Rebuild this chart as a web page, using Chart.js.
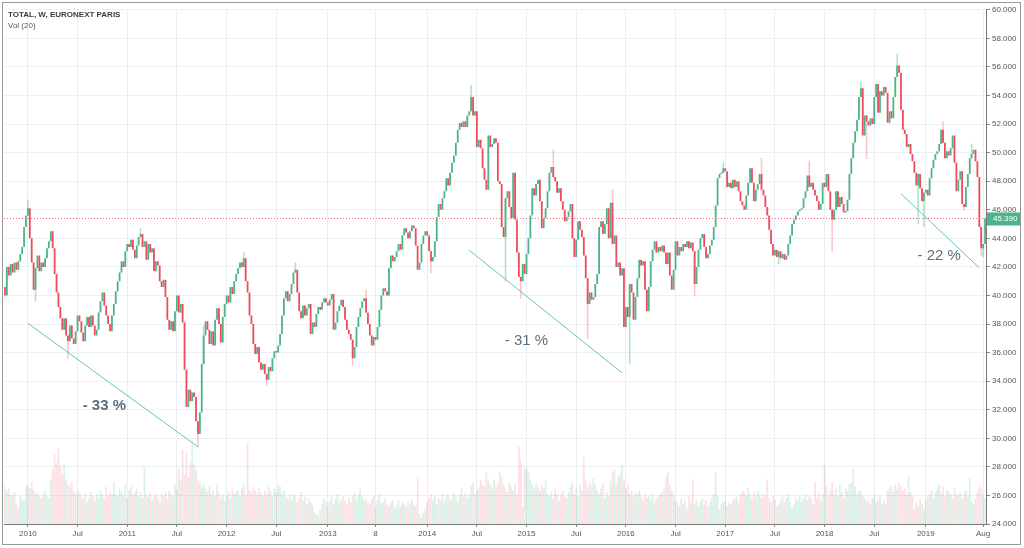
<!DOCTYPE html>
<html>
<head>
<meta charset="utf-8">
<script src="https://cdn.jsdelivr.net/npm/chart.js@4.4.1/dist/chart.umd.min.js"></script>
<style>
  html, body { margin: 0; padding: 0; background: #fff; }
  #frame { position: absolute; left: 2px; top: 2px; width: 1017px; height: 541px; border: 1px solid #9a9a9a; }
  canvas { display: block; }
</style>
</head>
<body>
<div id="frame"><canvas id="chart"></canvas></div>
<script>
// weekly candles, first week starts Monday 2009-10-12
const startWeek = '2009-10-12';
const firstOpen = 40.6;

const closes = [
  40.0, 42.0, 41.4, 42.2, 41.6, 42.3, 41.8, 42.4, 42.9, 43.4,
  44.8, 45.6, 46.1, 44.0, 42.3, 40.4, 41.9, 42.8, 41.7, 42.3,
  42.0, 42.6, 43.3, 43.8, 44.5, 43.3, 41.5, 40.2, 39.2, 38.4,
  37.6, 38.4, 37.2, 36.8, 37.9, 37.0, 36.6, 37.5, 38.6, 38.2,
  37.4, 36.8, 37.9, 38.5, 37.8, 38.6, 37.9, 37.2, 37.6, 38.8,
  39.6, 40.2, 39.3, 38.6, 38.0, 37.5, 38.6, 39.4, 40.3, 41.0,
  41.6, 42.4, 42.0, 43.1, 43.6, 43.4, 43.9, 43.2, 42.6, 43.5,
  44.1, 44.3, 43.4, 43.8, 42.5, 43.6, 43.0, 43.3, 41.7, 42.4,
  42.1, 41.0, 40.6, 41.1, 39.9, 38.3, 37.6, 38.2, 37.5, 38.9,
  40.0, 38.8, 39.4, 38.1, 34.8, 32.2, 33.4, 32.6, 33.2, 32.9,
  31.2, 30.3, 31.8, 35.2, 37.2, 38.2, 37.6, 36.6, 37.5, 36.5,
  38.3, 39.1, 38.0, 36.7, 38.5, 39.4, 40.0, 39.5, 40.6, 40.1,
  41.0, 41.5, 41.9, 42.3, 42.0, 42.6, 41.0, 40.2, 38.6, 38.0,
  36.6, 35.9, 36.4, 35.3, 34.8, 35.2, 34.5, 34.1, 35.0, 34.7,
  35.6, 36.1, 36.0, 36.5, 37.3, 38.6, 39.8, 40.3, 39.6, 40.1,
  40.8, 41.6, 41.8, 40.2, 38.9, 38.4, 39.3, 38.6, 39.1, 39.4,
  37.3, 38.1, 37.8, 38.7, 39.2, 39.0, 39.5, 39.8, 39.5, 39.3,
  39.7, 40.1, 37.6, 38.1, 38.9, 39.3, 39.7, 39.2, 38.3, 37.6,
  37.3, 36.9, 35.6, 36.4, 37.8, 38.5, 39.1, 39.6, 39.8, 38.8,
  38.0, 37.2, 36.5, 37.1, 36.9, 37.8, 39.0, 40.0, 40.5, 40.3,
  40.0, 41.9, 42.8, 42.4, 42.7, 43.1, 43.6, 43.2, 44.2, 44.7,
  44.4, 44.0, 44.5, 44.9, 44.7, 43.5, 41.8, 42.3, 43.6, 44.2,
  44.5, 44.2, 43.1, 42.4, 42.7, 43.8, 45.5, 46.4, 46.0, 46.8,
  47.3, 48.2, 47.7, 48.6, 49.3, 49.8, 50.7, 51.6, 52.1, 51.8,
  52.2, 51.8, 52.6, 52.9, 53.9, 52.6, 52.9, 50.4, 50.9, 50.3,
  48.9, 48.1, 47.4, 51.2, 50.4, 50.6, 51.0, 50.7, 48.0, 47.8,
  44.8, 44.1, 46.8, 47.3, 46.2, 45.4, 48.6, 45.3, 43.0, 41.3,
  41.0, 42.2, 41.5, 42.9, 44.0, 45.6, 47.5, 47.0, 47.8, 48.1,
  46.6, 44.7, 45.4, 46.1, 47.3, 48.6, 49.0, 48.3, 48.0, 47.2,
  47.5, 46.6, 46.0, 45.2, 45.5, 45.9, 46.4, 44.0, 42.7, 43.9,
  45.2, 44.6, 44.1, 42.8, 41.2, 39.4, 40.2, 39.7, 39.9, 40.8,
  41.5, 44.8, 45.2, 44.3, 45.0, 46.1, 44.0, 46.5, 43.6, 44.2,
  42.0, 42.3, 41.4, 41.9, 37.8, 39.2, 38.5, 40.8, 40.2, 38.3,
  39.9, 41.2, 42.5, 42.1, 42.4, 40.4, 38.9, 40.6, 42.4, 43.2,
  43.8, 43.0, 43.4, 43.1, 43.5, 43.0, 42.2, 43.0, 41.4, 40.4,
  41.8, 43.8, 42.8, 43.4, 43.1, 43.6, 43.4, 43.8, 43.3, 43.7,
  43.1, 40.8, 42.0, 43.2, 44.0, 44.3, 43.4, 42.6, 42.9, 43.5,
  43.9, 44.8, 46.3, 48.2, 48.5, 48.6, 48.9, 48.7, 47.6, 47.9,
  47.5, 48.1, 47.6, 48.0, 47.3, 46.6, 46.3, 46.0, 47.0, 47.9,
  48.9, 47.9, 46.6, 47.4, 47.8, 48.5, 47.4, 47.0, 46.2, 45.6,
  44.6, 43.6, 42.8, 43.2, 42.7, 43.1, 42.6, 42.9, 42.5, 42.8,
  43.6, 44.2, 45.0, 45.3, 45.6, 45.9, 46.0, 46.1, 46.8, 47.3,
  48.4, 47.6, 47.9, 47.4, 47.0, 46.6, 46.0, 46.4, 47.9, 47.6,
  48.5, 47.3, 46.0, 45.3, 46.0, 47.3, 46.2, 46.9, 46.4, 45.8,
  45.9, 46.7, 48.5, 49.6, 50.7, 51.5, 52.3, 53.9, 54.5, 51.2,
  52.6, 52.2, 51.9, 52.4, 52.0, 53.9, 54.8, 52.8, 54.3, 54.0,
  54.6, 54.2, 52.1, 52.9, 52.4, 53.9, 55.3, 56.1, 55.6, 53.0,
  51.6, 51.3, 50.4, 50.6, 49.9, 49.4, 48.6, 47.7, 48.5, 47.5,
  46.6, 47.2, 47.4, 47.0, 48.2, 48.9, 49.5, 49.9, 50.1, 50.6,
  51.6, 50.7, 49.6, 50.1, 49.8, 50.3, 51.2, 49.3, 47.3, 48.1,
  48.7, 46.4, 46.2, 47.6, 48.5, 49.6, 49.9, 50.2, 49.4, 48.3,
  44.8, 43.3, 43.6, 45.39
];

// weekly volume (M shares)
const volumes = [
  38, 34, 36, 30, 28, 32, 20, 15, 28, 25,
  24, 38, 40, 36, 42, 35, 30, 32, 28, 26,
  30, 33, 28, 26, 45, 55, 70, 62, 77, 58,
  50, 60, 45, 40, 38, 42, 33, 30, 34, 32,
  28, 25, 30, 22, 26, 32, 28, 24, 30, 26,
  34, 30, 26, 38, 28, 32, 30, 43, 30, 28,
  36, 32, 28, 40, 26, 34, 38, 30, 32, 35,
  28, 32, 26, 57, 30, 27, 32, 24, 28, 30,
  26, 22, 30, 28, 32, 25, 34, 30, 28, 40,
  35, 55, 45, 75, 50, 72, 48, 62, 85, 60,
  55, 45, 42, 38, 40, 36, 32, 38, 30, 34,
  28, 40, 32, 26, 30, 24, 28, 32, 26, 36,
  30, 32, 34, 28, 36, 40, 30, 82, 35, 32,
  38, 34, 30, 36, 32, 28, 34, 30, 38, 32,
  28, 36, 32, 40, 38, 30, 34, 28, 26, 30,
  24, 30, 28, 22, 26, 32, 24, 28, 20, 26,
  22, 18, 12, 10, 8, 15, 20, 26, 22, 18,
  24, 28, 20, 26, 30, 22, 25, 28, 24, 20,
  26, 22, 28, 32, 24, 30, 36, 28, 24, 26,
  22, 20, 25, 28, 18, 24, 30, 20, 22, 26,
  20, 18, 22, 24, 16, 20, 24, 18, 22, 20,
  18, 22, 20, 24, 20, 18, 48, 10, 6, 12,
  16, 22, 26, 30, 24, 28, 20, 26, 24, 30,
  22, 28, 30, 24, 26, 32, 28, 22, 30, 36,
  28, 32, 26, 30, 38, 42, 30, 34, 36, 45,
  40, 38, 52, 44, 40, 36, 45, 38, 42, 53,
  48, 40, 36, 32, 42, 38, 34, 40, 30, 78,
  65, 18, 55, 57, 52, 45, 40, 36, 42, 38,
  34, 40, 36, 44, 30, 28, 32, 26, 36, 30,
  24, 30, 34, 28, 26, 32, 38, 42, 30, 36,
  28, 40, 34, 68, 44, 36, 42, 38, 46, 40,
  34, 30, 36, 42, 26, 32, 28, 44, 52, 55,
  40, 48, 50, 60, 44, 36, 40, 30, 34, 28,
  32, 30, 34, 28, 24, 30, 26, 28, 24, 30,
  22, 26, 28, 30, 32, 36, 48, 52, 40, 34,
  30, 24, 22, 18, 26, 20, 24, 16, 28, 22,
  45, 20, 24, 18, 22, 26, 20, 24, 18, 22,
  26, 30, 52, 28, 14, 20, 22, 24, 18, 22,
  20, 24, 26, 28, 22, 30, 34, 32, 28, 36,
  30, 26, 32, 28, 34, 30, 26, 30, 28, 45,
  26, 22, 28, 24, 18, 20, 24, 28, 22, 26,
  30, 22, 16, 20, 26, 24, 28, 22, 26, 30,
  24, 28, 26, 20, 43, 26, 32, 24, 30, 60,
  38, 28, 34, 42, 30, 36, 28, 40, 32, 26,
  36, 34, 40, 42, 55, 38, 30, 34, 32, 28,
  26, 22, 24, 20, 26, 30, 22, 24, 28, 20,
  24, 20, 34, 36, 38, 32, 40, 36, 42, 38,
  34, 36, 30, 48, 32, 28, 15, 22, 18, 25,
  20, 16, 24, 28, 30, 34, 26, 32, 36, 40,
  30, 38, 28, 34, 32, 30, 26, 36, 30, 28,
  32, 26, 30, 34, 28, 47, 24, 20, 26, 32,
  38, 36, 30, 26
];

// notable shadows: [week, low, high] (null = no shadow on that side)
const wickMarks = [
  [12, null, 46.7], [16, 39.6, null], [33, 35.6, null], [71, null, 44.7],
  [101, 29.4, null], [102, 30.6, null], [104, null, 37.9], [125, null, 43.0],
  [137, 33.7, null], [152, null, 42.3], [182, 35.1, null], [189, null, 40.4],
  [223, 41.6, null], [244, null, 54.7], [262, 41.0, null], [270, 39.8, null],
  [287, null, 50.2], [305, 37.0, null], [318, null, 47.4], [327, 35.2, null],
  [361, 40.0, null], [376, null, 49.3], [396, null, 49.6], [405, 42.2, null],
  [421, null, 49.4], [433, 43.1, null], [448, null, 55.0], [451, 49.6, null],
  [467, null, 56.9], [478, 45.0, null], [481, 44.8, null], [491, null, 52.2],
  [502, 46.0, null], [506, null, 50.6], [511, 42.8, null], [512, 42.7, null]
];

const tickMonths = ['2010-01', '2010-07', '2011-01', '2011-07', '2012-01', '2012-07', '2013-01', '2013-07',
  '2014-01', '2014-07', '2015-01', '2015-07', '2016-01', '2016-07', '2017-01', '2017-07',
  '2018-01', '2018-07', '2019-01', '2019-08'];
const tickLabels = ['2010', 'Jul', '2011', 'Jul', '2012', 'Jul', '2013', '8',
  '2014', 'Jul', '2015', 'Jul', '2016', 'Jul', '2017', 'Jul',
  '2018', 'Jul', '2019', 'Aug'];

// trend lines: [fromWeek, fromPrice, toWeek, toPrice]
const trendLines = [[12, 38.05, 101, 29.4], [243, 43.17, 323, 34.58], [469, 47.12, 510, 41.93]];
// drop labels: [text, week, price, bold]
const dropLabels = [['- 33 %', 52, 32.3, true], ['- 31 %', 273, 36.8, false], ['- 22 %', 489, 42.8, false]];
const lastPrice = 45.39;

const UP = '#4cb488', DOWN = '#ee4c5d';

// week labels
const weekDates = closes.map((_, i) => {
  const d = new Date(startWeek + 'T00:00:00Z');
  d.setUTCDate(d.getUTCDate() + 7 * i);
  return d.toISOString().slice(0, 10);
});
const tickText = {};
tickMonths.forEach((m, k) => {
  const i = weekDates.findIndex(d => d.slice(0, 7) === m);
  if (i >= 0) tickText[i] = tickLabels[k];
});

const opens = closes.map((c, i) => i === 0 ? firstOpen : closes[i - 1]);
const isUp = closes.map((c, i) => c >= opens[i]);
const bodies = closes.map((c, i) => [Math.min(c, opens[i]), Math.max(c, opens[i])]);
const wicks = closes.map(() => null);
wickMarks.forEach(([i, lo, hi]) => {
  wicks[i] = [lo ?? bodies[i][0], hi ?? bodies[i][1]];
});

const overlay = {
  id: 'overlay',
  afterDatasetsDraw(chart) {
    const { ctx, chartArea: a, scales: { x, y } } = chart;
    ctx.save();
    ctx.beginPath();
    ctx.rect(a.left, a.top, a.right - a.left, a.bottom - a.top);
    ctx.clip();

    // last price dotted line
    const py = Math.round(y.getPixelForValue(lastPrice)) + 0.5;
    ctx.strokeStyle = '#ee6b73';
    ctx.lineWidth = 1;
    ctx.setLineDash([1, 2]);
    ctx.beginPath();
    ctx.moveTo(a.left, py);
    ctx.lineTo(a.right, py);
    ctx.stroke();
    ctx.setLineDash([]);

    // trend lines
    ctx.strokeStyle = '#66c5ae';
    trendLines.forEach(([i0, v0, i1, v1]) => {
      ctx.beginPath();
      ctx.moveTo(x.getPixelForValue(i0), y.getPixelForValue(v0));
      ctx.lineTo(x.getPixelForValue(i1), y.getPixelForValue(v1));
      ctx.stroke();
    });

    // drop labels
    ctx.fillStyle = '#5d6e7e';
    ctx.textAlign = 'center';
    ctx.textBaseline = 'middle';
    dropLabels.forEach(([t, i, v, bold]) => {
      ctx.font = (bold ? 'bold ' : '') + '15px "Liberation Sans", Arial, sans-serif';
      ctx.fillText(t, x.getPixelForValue(i), y.getPixelForValue(v));
    });
    ctx.restore();

    // title
    ctx.save();
    ctx.textAlign = 'left';
    ctx.textBaseline = 'middle';
    ctx.fillStyle = '#3c3c3c';
    ctx.font = 'bold 8px "Liberation Sans", Arial, sans-serif';
    ctx.fillText('TOTAL, W, EURONEXT PARIS', 5, 12);
    ctx.fillStyle = '#555';
    ctx.font = '8px "Liberation Sans", Arial, sans-serif';
    ctx.fillText('Vol (20)', 5, 23);
    ctx.restore();
  },
  afterDraw(chart) {
    const { ctx, chartArea: a, scales: { y } } = chart;
    const py = y.getPixelForValue(lastPrice);
    ctx.save();
    ctx.fillStyle = UP;
    ctx.fillRect(a.right + 1, py - 6, chart.width - a.right - 1, 13);
    ctx.fillStyle = '#fff';
    ctx.font = '8px "Liberation Sans", Arial, sans-serif';
    ctx.textAlign = 'left';
    ctx.textBaseline = 'middle';
    ctx.fillText(lastPrice.toFixed(3), a.right + 7, py + 0.5);
    ctx.restore();
  }
};

new Chart(document.getElementById('chart'), {
  type: 'bar',
  plugins: [overlay],
  data: {
    labels: weekDates,
    datasets: [
      {
        label: 'Candles',
        data: bodies,
        backgroundColor: isUp.map(u => u ? UP : DOWN),
        barPercentage: 0.95,
        categoryPercentage: 1,
        minBarLength: 1.5,
        grouped: false,
        order: 1
      },
      {
        label: 'Shadows',
        data: wicks,
        backgroundColor: isUp.map(u => u ? 'rgba(76,180,136,0.4)' : 'rgba(238,76,93,0.3)'),
        barThickness: 1,
        grouped: false,
        order: 2
      },
      {
        label: 'Volume',
        data: volumes,
        yAxisID: 'yVol',
        backgroundColor: isUp.map(u => u ? 'rgba(76,180,136,0.2)' : 'rgba(238,76,93,0.17)'),
        barPercentage: 1,
        categoryPercentage: 0.9,
        grouped: false,
        order: 3
      }
    ]
  },
  options: {
    responsive: true,
    maintainAspectRatio: false,
    animation: false,
    layout: { padding: { top: 2, left: 1 } },
    plugins: { legend: { display: false }, tooltip: { enabled: false } },
    scales: {
      x: {
        offset: true,
        afterFit(s) { s.height = 20; },
        grid: { offset: false, color: '#e8eef3', tickColor: '#888', tickLength: 3 },
        border: { color: '#7a7a7a' },
        ticks: {
          autoSkip: false,
          maxRotation: 0,
          padding: 2,
          color: '#555',
          font: { size: 8, family: '"Liberation Sans", Arial, sans-serif' },
          callback: (v, i) => tickText[i] ?? null
        }
      },
      y: {
        position: 'right',
        min: 24,
        max: 60,
        afterFit(s) { s.width = 34; },
        grid: { color: '#ebf0f4', tickColor: '#888', tickLength: 4 },
        border: { color: '#7a7a7a' },
        ticks: {
          stepSize: 2,
          padding: 2,
          color: '#555',
          font: { size: 8, family: '"Liberation Sans", Arial, sans-serif' },
          callback: v => v.toFixed(3)
        }
      },
      yVol: { display: false, min: 0, max: 520 }
    }
  }
});
</script>
</body>
</html>
